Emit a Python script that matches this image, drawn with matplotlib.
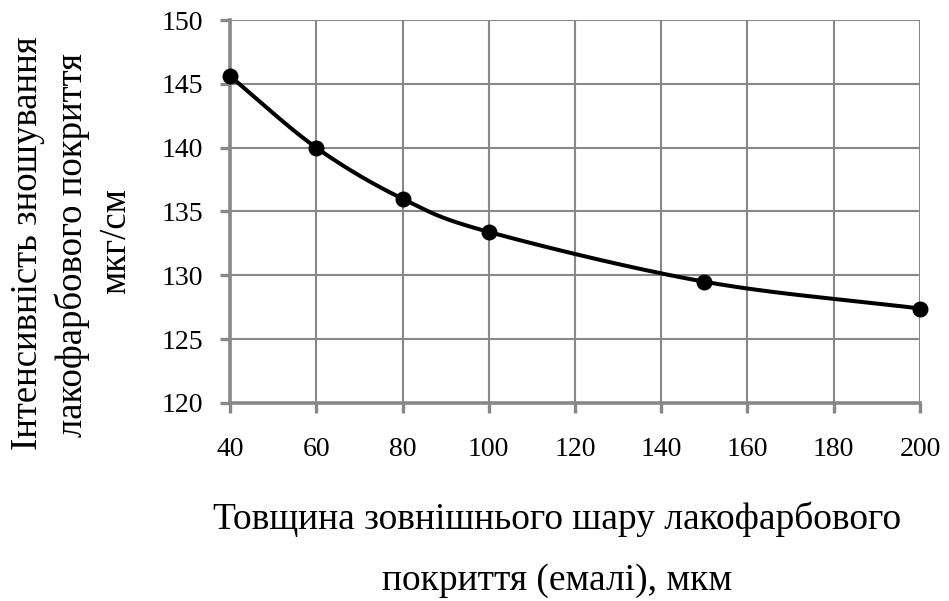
import numpy as np
import matplotlib.pyplot as plt

plt.rcParams['font.family'] = ['Liberation Serif', 'DejaVu Serif']

# товщина шару, мкм
tovshchyna = [40, 60, 80, 100, 150, 200]
# інтенсивність зношування, мкг/см
intensyvnist = [145.6, 140.0, 136.0, 133.4, 129.5, 127.4]

x_ticks = [40, 60, 80, 100, 120, 140, 160, 180, 200]
y_ticks = [120, 125, 130, 135, 140, 145, 150]


def zghladzhena_liniia(xs, ys, n=40):
    # згладжування як у Excel (Catmull-Rom)
    xs = np.asarray(xs, float)
    ys = np.asarray(ys, float)
    px = np.concatenate([[2 * xs[0] - xs[1]], xs, [2 * xs[-1] - xs[-2]]])
    py = np.concatenate([[2 * ys[0] - ys[1]], ys, [2 * ys[-1] - ys[-2]]])
    out_x, out_y = [], []
    t = np.linspace(0, 1, n)
    for i in range(1, len(px) - 2):
        for arr, out in ((px, out_x), (py, out_y)):
            p0, p1, p2, p3 = arr[i - 1], arr[i], arr[i + 1], arr[i + 2]
            c1 = p1 + (p2 - p0) / 6
            c2 = p2 - (p3 - p1) / 6
            out.extend((1 - t) ** 3 * p1 + 3 * (1 - t) ** 2 * t * c1
                       + 3 * (1 - t) * t ** 2 * c2 + t ** 3 * p2)
    return out_x, out_y


fig = plt.figure(figsize=(9.49, 6.01), dpi=100)
ax = fig.add_axes([0.2424, 0.3295, 0.9694 - 0.2424, 0.9667 - 0.3295])

sx, sy = zghladzhena_liniia(tovshchyna, intensyvnist)
ax.plot(sx, sy, color='black', linewidth=2.9, zorder=3, clip_on=False)
ax.plot(tovshchyna, intensyvnist, 'o', color='black', markersize=10.5, zorder=4, clip_on=False)

ax.set_xlim(40, 200)
ax.set_ylim(120, 150)
ax.set_xticks(x_ticks)
ax.set_yticks(y_ticks)
ax.grid(True, color='#888888', linewidth=1.5)
ax.set_axisbelow(True)
for s in ['top', 'right']:
    ax.spines[s].set_visible(False)
for s in ['left', 'bottom']:
    ax.spines[s].set_color('#888888')
    ax.spines[s].set_linewidth(2.6)
ax.tick_params(axis='both', direction='out', length=7.2, width=2.4, color='#888888',
               labelsize=20)
ax.tick_params(axis='y', pad=12)
ax.tick_params(axis='x', pad=17)

# підпис осі Y - три рядки
for x_px, y_px, tekst in [(37, 243, 'Інтенсивність зношування'),
                          (82, 245, 'лакофарбового покриття'),
                          (125, 241, 'мкг/см')]:
    fig.text(x_px / 949, 1 - y_px / 601, tekst, rotation=90, rotation_mode='anchor',
             ha='center', va='baseline', fontsize=26.5)

# підпис осі X - два рядки
fig.text(557 / 949, 1 - 529 / 601, 'Товщина зовнішнього шару лакофарбового',
         ha='center', va='baseline', fontsize=27)
fig.text(557 / 949, 1 - 590 / 601, 'покриття (емалі), мкм',
         ha='center', va='baseline', fontsize=27)

plt.savefig('out.png', dpi=100)
